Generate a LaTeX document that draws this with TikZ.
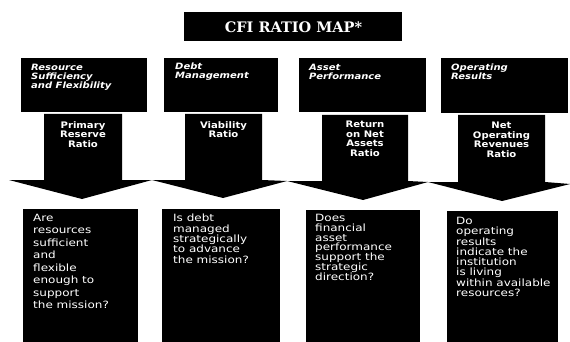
\documentclass[tikz,border=0pt]{standalone}
\usepackage{fontspec}
\newfontfamily\titlefont{DejaVu Serif}
\newfontfamily\catfont[FakeStretch=1.15]{DejaVu Sans}
\newfontfamily\ratfont[FakeStretch=1.12]{DejaVu Sans}
\newfontfamily\qfont[FakeStretch=1.2]{DejaVu Sans}
\begin{document}
\begin{tikzpicture}[x=1pt,y=-1pt,
  blk/.style={fill=black,draw=none},
  cattext/.style={anchor=north west,inner sep=0pt,align=left,text=white,
    font=\catfont\bfseries\itshape\fontsize{8.7}{9}\selectfont},
  rattext/.style={anchor=north,inner sep=0pt,align=center,text=white,
    font=\ratfont\bfseries\fontsize{9}{9.5}\selectfont},
  qtext/.style={anchor=north west,inner sep=0pt,align=left,text=white},
]
\useasboundingbox (0,0) rectangle (570,342);
\fill[white] (0,0) rectangle (570,342);
% title
\fill[blk] (184,12) rectangle (402,41);
\node[text=white,inner sep=0pt,font=\titlefont\bfseries\fontsize{14.5}{16}\selectfont] (title) at (293.5,27) {CFI RATIO MAP*};
% category boxes
\fill[blk] (21,58) rectangle (147,112);
\fill[blk] (164,58) rectangle (278,112);
\fill[blk] (299,58) rectangle (426,112);
\fill[blk] (441,58) rectangle (568,113);
\node[cattext] (c1) at (31,64) {Resource\\Sufficiency\\and Flexibility};
\node[cattext] (c2) at (175,63) {Debt\\Management};
\node[cattext] (c3) at (309,64) {Asset\\Performance};
\node[cattext] (c4) at (451,64) {Operating\\Results};
% arrows
\fill[blk] (44,114) -- (122,114) -- (122,180) -- (152,180) -- (82,199) -- (9,180) -- (44,180) -- cycle;
\fill[blk] (185,114) -- (262,114) -- (262,180) -- (287,181) -- (223,198) -- (152,180) -- (185,180) -- cycle;
\fill[blk] (322,115) -- (408,115) -- (408,181) -- (428,182) -- (363,200) -- (287,181) -- (322,181) -- cycle;
\fill[blk] (458,115) -- (545,115) -- (545,182) -- (570,184) -- (502,201) -- (428,182) -- (458,182) -- cycle;
\node[rattext] (r1) at (83,121) {Primary\\Reserve\\Ratio};
\node[rattext] (r2) at (223.5,121) {Viability\\Ratio};
\node[rattext] (r3) at (365,121) {Return\\on Net\\Assets\\Ratio};
\node[rattext] (r4) at (501.5,122) {Net\\Operating\\Revenues\\Ratio};
% question boxes
\fill[blk] (23,209) rectangle (138,342);
\fill[blk] (162,209) rectangle (280,342);
\fill[blk] (306,210) rectangle (420,342);
\fill[blk] (447,211) rectangle (558,342);
\node[qtext,font=\qfont\fontsize{10}{12.5}\selectfont] (q1) at (33,214) {Are\\resources\\sufficient\\and\\flexible\\enough to\\support\\the mission?};
\node[qtext,font=\qfont\fontsize{10}{10.4}\selectfont] (q2) at (173,214) {Is debt\\managed\\strategically\\to advance\\the mission?};
\node[qtext,font=\qfont\fontsize{10}{9.8}\selectfont] (q3) at (315,214) {Does\\financial\\asset\\performance\\support the\\strategic\\direction?};
\node[qtext,font=\qfont\fontsize{10}{10.3}\selectfont] (q4) at (456,217) {Do\\operating\\results\\indicate the\\institution\\is living\\within available\\resources?};
\end{tikzpicture}
\end{document}
